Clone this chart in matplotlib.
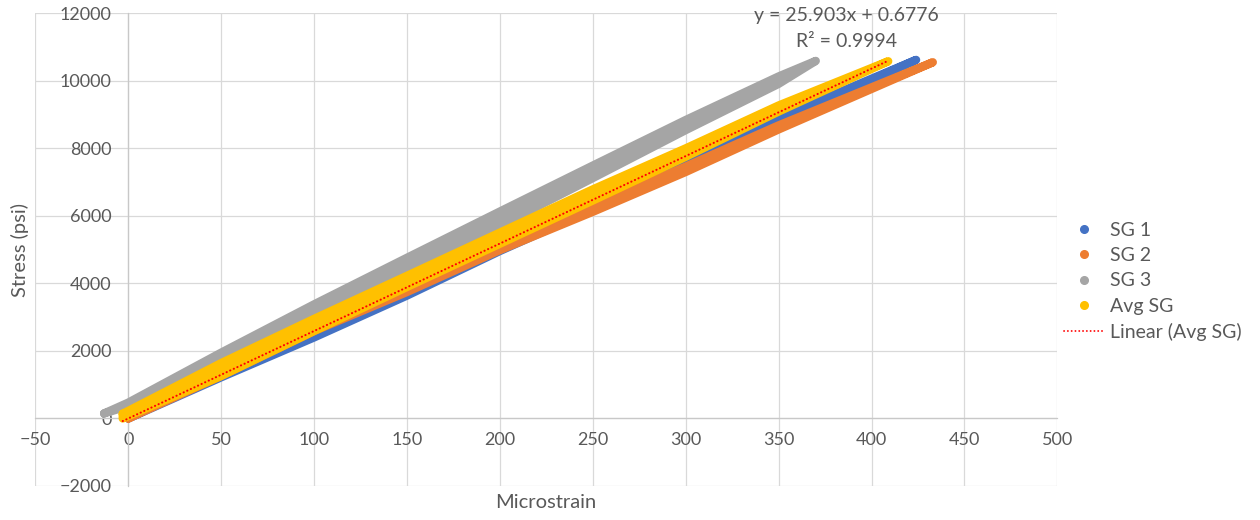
import matplotlib
matplotlib.use('Agg')
import matplotlib.pyplot as plt
from matplotlib.lines import Line2D

plt.rcParams['font.family'] = ['Lato', 'DejaVu Sans']

# ---------------- data ----------------
# each gauge: strain points, stress on loading branch, stress on unloading branch
sg1_strain = [0, 50, 100, 150, 200, 250, 300, 350, 424]
sg1_load = [0, 1330, 2560, 3820, 5120, 6350, 7590, 8900, 10620]
sg1_unload = [0, 1220, 2400, 3640, 4960, 6190, 7430, 8800, 10620]

sg2_strain = [0, 50, 100, 150, 200, 250, 300, 350, 433]
sg2_load = [0, 1380, 2730, 3925, 5165, 6290, 7460, 8680, 10550]
sg2_unload = [0, 1260, 2590, 3745, 4985, 6120, 7300, 8560, 10550]

sg3_strain = [-13, 0, 50, 100, 150, 200, 250, 300, 350, 370]
sg3_load = [150, 470, 1950, 3380, 4760, 6130, 7490, 8840, 10130, 10590]
sg3_unload = [150, 370, 1750, 3080, 4380, 5710, 7120, 8540, 9910, 10590]

avg_strain = [-3, 50, 100, 150, 200, 250, 300, 350, 409]
avg_load = [140, 1640, 2950, 4225, 5505, 6785, 8000, 9270, 10580]
avg_unload = [0, 1260, 2590, 3895, 5175, 6455, 7750, 9090, 10580]

trend_slope = 25.903
trend_intercept = 0.6776
r_squared = 0.9994

series_names = ['SG 1', 'SG 2', 'SG 3', 'Avg SG']
series_colors = ['#4472C4', '#ED7D31', '#A5A5A5', '#FFC000']

x_ticks = [-50, 0, 50, 100, 150, 200, 250, 300, 350, 400, 450, 500]
y_ticks = [-2000, 0, 2000, 4000, 6000, 8000, 10000, 12000]

# ---------------- figure ----------------
W, H = 1260, 520
fig = plt.figure(figsize=(W / 100, H / 100), dpi=100)
ax = fig.add_axes([35.4 / W, 1 - 486 / H, (1057.3 - 35.4) / W, (486 - 13.3) / H])
ax.set_xlim(x_ticks[0], x_ticks[-1])
ax.set_ylim(y_ticks[0], y_ticks[-1])
ax.set_xticks(x_ticks)
ax.set_yticks(y_ticks)
ax.grid(True, color='#D9D9D9', lw=0.9)
ax.set_axisbelow(True)
for s in ['top', 'right']:
    ax.spines[s].set_visible(False)
ax.spines['bottom'].set_position(('data', 0))
ax.spines['left'].set_position(('data', 0))
for s in ['bottom', 'left']:
    ax.spines[s].set_color('#C8C8C8')
    ax.spines[s].set_linewidth(0.9)
ax.tick_params(axis='both', length=0, labelsize=13, labelcolor='#595959')
ax.tick_params(axis='x', pad=10)
ax.tick_params(axis='y', pad=12)

all_series = [
    (sg1_strain, sg1_load, sg1_unload),
    (sg2_strain, sg2_load, sg2_unload),
    (sg3_strain, sg3_load, sg3_unload),
    (avg_strain, avg_load, avg_unload),
]
for (xs, up, dn), col, name in zip(all_series, series_colors, series_names):
    loop_x = list(xs) + list(xs[::-1]) + [xs[0]]
    loop_y = list(up) + list(dn[::-1]) + [up[0]]
    ax.fill(loop_x, loop_y, color=col, lw=0, zorder=3)
    ax.plot(loop_x, loop_y, color=col, lw=6, solid_capstyle='round',
            solid_joinstyle='round', zorder=3)

# linear trend line of Avg SG
tx = [min(avg_strain), max(avg_strain)]
ty = [trend_slope * v + trend_intercept for v in tx]
ax.plot(tx, ty, color='#FF0000', lw=1.5, linestyle=(0, (0.1, 1.8)),
        dash_capstyle='round', zorder=4)

fig.text(846.7 / W, 1 - 15 / H, f'y = {trend_slope}x + {trend_intercept}',
         ha='center', va='center', fontsize=14, color='#595959')
fig.text(846.7 / W, 1 - 41.7 / H, f'R² = {r_squared}',
         ha='center', va='center', fontsize=14, color='#595959')

fig.text(546 / W, 1 - 503 / H, 'Microstrain', ha='center', va='center',
         fontsize=14.5, color='#595959')
fig.text(20 / W, 1 - 250 / H, 'Stress (psi)', ha='center', va='center',
         rotation=90, fontsize=14.5, color='#595959')

handles = [Line2D([], [], color=c, marker='o', linestyle='None', markersize=5.5)
           for c in series_colors]
handles.append(Line2D([], [], color='#FF0000', lw=1.3, linestyle=(0, (0.1, 2.0)),
                      dash_capstyle='round'))
labels = series_names + ['Linear (Avg SG)']
fig.legend(handles, labels, loc='center left',
           bbox_to_anchor=(1064 / W, 1 - 281.5 / H), bbox_transform=fig.transFigure,
           frameon=False, fontsize=14, labelcolor='#595959', borderpad=0,
           borderaxespad=0, handlelength=2.1, handletextpad=0.26, labelspacing=0.43)

fig.savefig('out.png', dpi=100)
